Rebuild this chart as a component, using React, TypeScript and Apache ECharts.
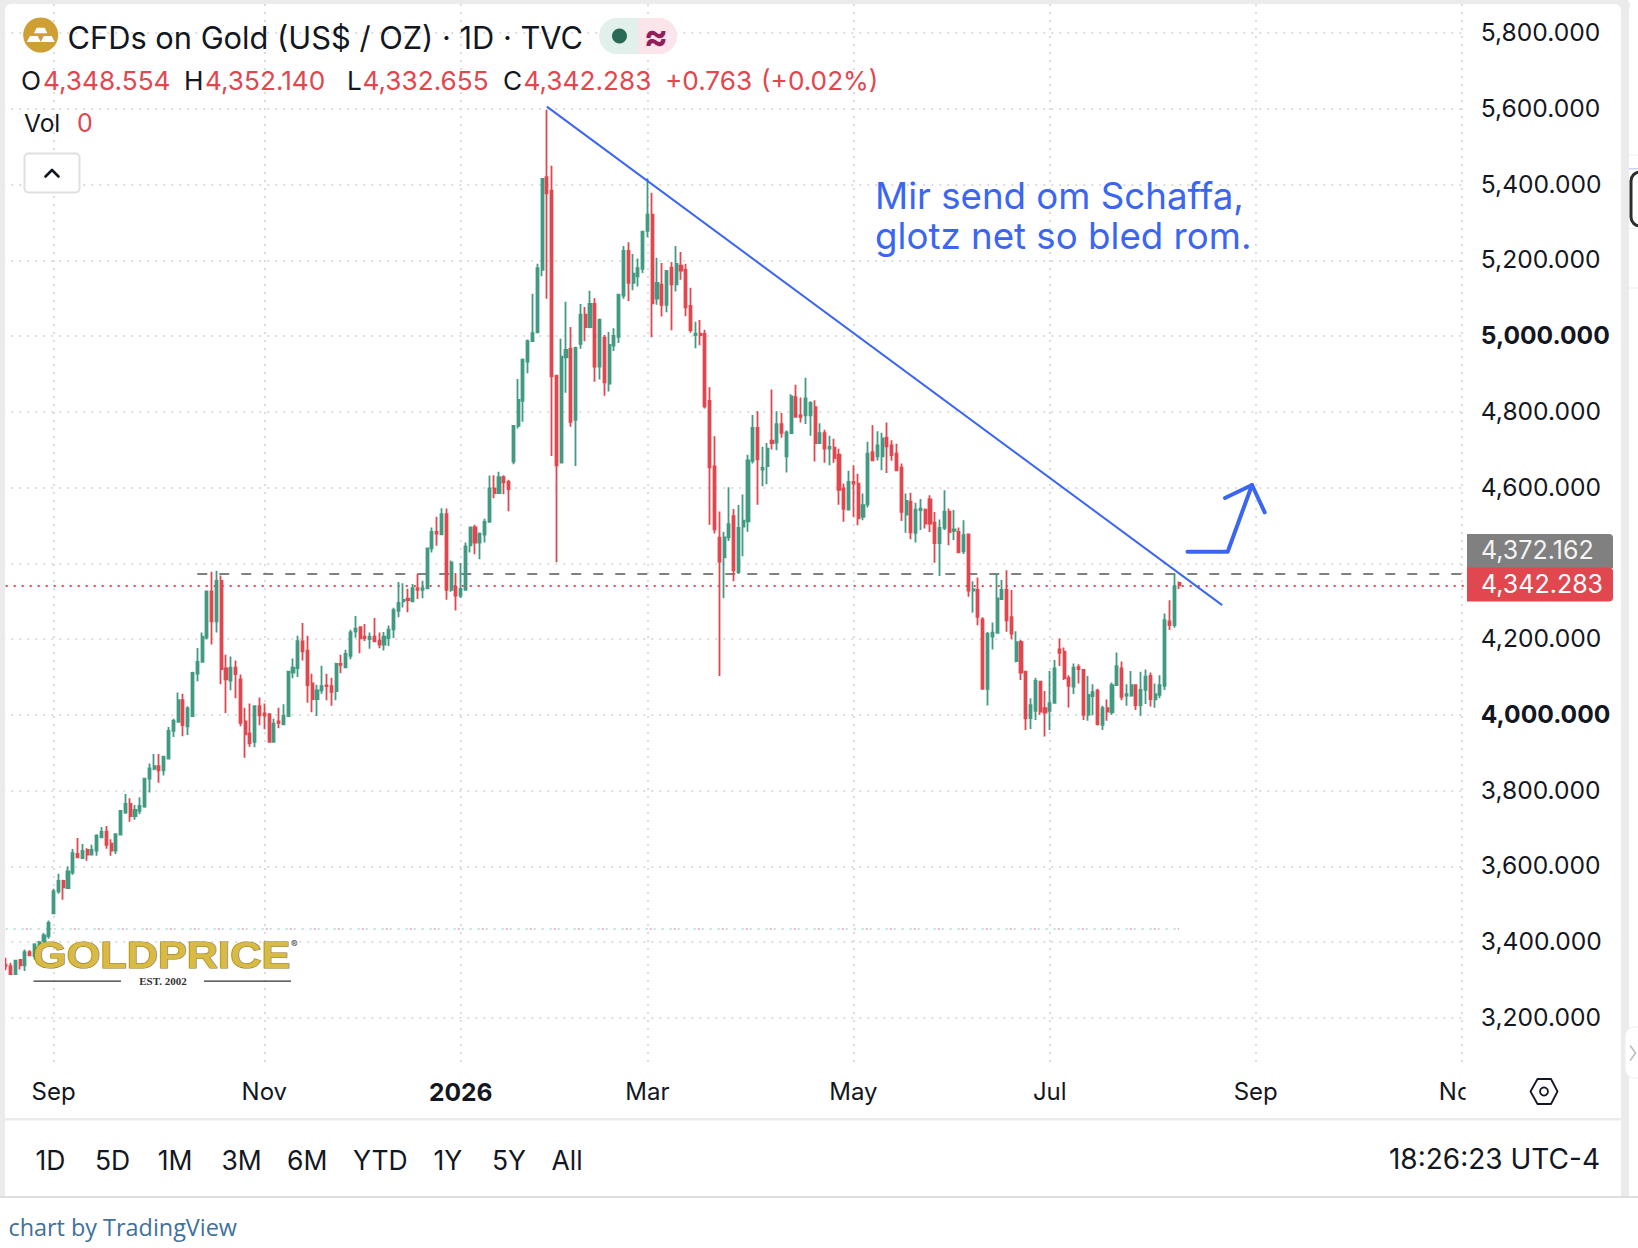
import React, { useEffect, useRef } from "react";
import * as echarts from "echarts";

const opens = [
  3341,3337,3316,3353,3339,3374,3363,3389,3403,3416,3476,3534,3562,3543,3584,3633,3622,3644,3631,3642,
  3677,3692,3660,3642,3684,3742,3765,3733,3747,3758,3832,3858,3865,3854,3885,3958,3982,4039,3970,3997,
  4109,4140,4204,4326,4247,4354,4123,4091,4125,4094,3983,3951,3929,4023,4004,4002,3929,3983,3975,3997,
  4112,4124,4194,4170,4083,4042,4065,4078,4076,4063,4135,4126,4156,4221,4232,4207,4200,4207,4196,4186,
  4203,4226,4275,4300,4307,4300,4335,4330,4334,4440,4483,4477,4530,
  4330,4339,4315,4330,4448,4495,4455,4476,4510,4598,4586,4628,4615,4669,4763,4829,4933,4987,5010,5175,
  5420,5384,4896,4666,4944,4967,4779,4980,5057,5024,5085,4920,4996,4875,4975,4998,5107,5225,5141,5158,
  5178,5278,5321,5099,5136,5083,5181,5137,5186,5175,5080,5003,5007,5006,4829,4656,4468,4416,4469,4525,
  4377,4497,4511,4671,4758,4648,4657,4724,4719,4768,4683,4744,4839,4791,4791,4791,4813,4718,4744,4703,
  4706,4687,4598,4542,
  4615,4611,4523,4556,4694,4683,4683,4732,4712,4690,4653,4529,4563,4481,4541,4542,4569,4508,4454,4494,
  4537,4486,4483,4432,4477,4328,4330,4252,4069,4207,4217,4306,4331,4258,4142,4193,4114,3992,4011,4088,
  4018,4011,4032,4173,4167,4097,4075,4126,4119,4000,4050,4064,3974,4018,4007,4079,4123,4051,4051,4079,
  4026,4066,4103,4041,4053,4077,4247,4237,4348.554,
];
const closes = [
  3337,3316,3351,3339,3374,3365,3394,3400,3418,3451,3534,3562,3545,3587,3635,3624,3641,3631,3644,3681,
  3691,3657,3642,3685,3747,3765,3733,3749,3760,3832,3859,3865,3854,3890,3958,3984,4039,3973,4017,4111,
  4140,4207,4326,4247,4354,4121,4094,4125,4108,3979,3949,3926,4023,3999,3999,3929,3977,3979,3998,4114,
  4125,4195,4168,4079,4042,4065,4076,4076,4061,4135,4132,4161,4218,4228,4202,4203,4207,4194,4186,4207,
  4225,4277,4296,4304,4303,4335,4330,4335,4440,4483,4479,4530,4330,
  4403,4315,4333,4445,4495,4455,4479,4510,4598,4586,4628,4614,4596,4763,4832,4938,4987,5008,5180,5415,
  5377,4894,4659,4946,4964,4774,4969,5057,5024,5085,4920,5043,4878,4977,5001,5110,5225,5141,5165,5180,
  5276,5321,5087,5141,5083,5172,5137,5191,5173,5076,5016,5007,5003,4815,4654,4490,4405,4469,4504,4382,
  4494,4513,4672,4758,4675,4652,4703,4718,4768,4745,4746,4841,4787,4787,4836,4824,4718,4744,4703,4708,
  4678,4594,4544,4615,
  4611,4519,4554,4690,4672,4712,4730,4709,4686,4646,4536,4565,4482,4542,4545,4505,4505,4454,4494,4537,
  4483,4490,4429,4475,4328,4332,4259,4069,4214,4217,4308,4330,4250,4215,4192,4112,3991,4026,4090,4009,
  4006,4031,4123,4164,4097,4077,4125,4121,4000,4053,4060,3976,4018,4009,4079,4129,4048,4055,4079,4026,
  4066,4101,4042,4055,4079,4250,4237,4340,4342.283,
];
const lows = [
  3326,3316,3316,3328,3324,3363,3354,3372,3403,3409,3474,3528,3512,3541,3578,3622,3620,3615,3631,3628,
  3675,3647,3628,3633,3683,3739,3718,3723,3738,3755,3795,3854,3821,3840,3885,3942,3982,3944,3947,3997,
  4089,4140,4199,4186,4218,4081,4005,4065,4044,3970,3887,3916,3915,3973,3962,3929,3929,3965,3973,3997,
  4097,4100,4144,4032,4007,3997,4056,4039,4024,4039,4110,4126,4147,4204,4163,4195,4175,4192,4176,4170,
  4182,4203,4258,4284,4271,4299,4306,4308,4334,4429,4447,4477,4304,
  4325,4276,4309,4330,4429,4424,4411,4455,4508,4572,4584,4583,4538,4662,4756,4774,4902,4985,5008,5158,
  5099,4684,4403,4666,4851,4761,4657,4967,4987,5021,4880,4886,4843,4854,4961,4982,5099,5093,5121,5131,
  5167,5261,4997,5083,5052,5063,5016,5118,5149,5053,5009,4968,4976,4809,4502,4479,4103,4308,4459,4353,
  4372,4419,4484,4664,4555,4604,4609,4701,4699,4732,4640,4742,4787,4772,4768,4737,4669,4716,4666,4659,
  4666,4555,4510,4540,
  4523,4501,4514,4548,4672,4672,4646,4639,4671,4644,4512,4481,4464,4455,4488,4492,4483,4402,4367,4488,
  4448,4462,4428,4425,4312,4270,4237,4069,4025,4173,4217,4305,4220,4200,4139,4092,3960,3963,3987,4000,
  3943,3960,4031,4129,4092,4020,4055,4083,3987,3985,4000,3972,3960,3985,4000,4079,4039,4024,4048,4013,
  3998,4029,4022,4019,4044,4066,4224,4230,4332.655,
];
const highs = [
  3359,3346,3351,3354,3381,3379,3397,3403,3424,3457,3541,3581,3565,3600,3646,3675,3659,3648,3657,3685,
  3704,3707,3672,3685,3749,3791,3780,3762,3783,3832,3872,3897,3897,3890,3968,3990,4059,4056,4023,4114,
  4177,4218,4328,4378,4381,4368,4159,4154,4144,4107,4019,4030,4025,4046,4030,4004,3990,4019,4028,4114,
  4149,4209,4243,4209,4109,4080,4130,4109,4098,4138,4159,4172,4225,4261,4233,4240,4218,4256,4218,4219,
  4236,4283,4351,4348,4333,4346,4372,4354,4442,4495,4523,4546,4545,
  4408,4375,4401,4455,4497,4502,4482,4518,4632,4633,4642,4633,4621,4765,4887,4941,4991,5112,5191,5415,
  5598,5450,4896,4993,5091,5024,4972,5085,5077,5120,5100,5047,5003,5011,5021,5110,5238,5248,5217,5205,
  5278,5417,5379,5207,5193,5175,5196,5238,5222,5191,5128,5038,5043,5017,4865,4736,4537,4484,4601,4544,
  4554,4582,4687,4792,4802,4708,4718,4859,4802,4797,4751,4847,4872,4838,4890,4828,4831,4770,4753,4737,
  4729,4703,4611,4645,
  4659,4637,4585,4721,4765,4749,4745,4772,4725,4716,4664,4585,4587,4560,4570,4545,4580,4536,4516,4593,
  4545,4541,4495,4514,4479,4353,4363,4258,4219,4244,4372,4356,4382,4330,4221,4198,4114,4044,4098,4090,
  4063,4116,4145,4202,4178,4105,4136,4134,4119,4103,4081,4069,4024,4041,4086,4165,4141,4081,4116,4081,
  4114,4120,4112,4083,4105,4268,4303,4372,4352.14,
];

const yTicks = [3200, 3400, 3600, 3800, 4000, 4200, 4400, 4600, 4800, 5000, 5200, 5400, 5600, 5800];
const yLabelTicks = [3200, 3400, 3600, 3800, 4000, 4200, 4600, 4800, 5000, 5200, 5400, 5600, 5800];
const yBold = [4000, 5000];
const xTickIndex = [10, 54, 95, 134, 177, 218, 261, 304];
const xTickLabels = ["Sep", "Nov", "2026", "Mar", "May", "Jul", "Sep", "Nov"];
const rangeButtons = ["1D", "5D", "1M", "3M", "6M", "YTD", "1Y", "5Y", "All"];
const categories = Array.from({ length: 306 }, (_, i) => String(i));

const lastClose = 4342.283;
const resistance = 4372.162;
const lowLine = 3436;
const trendFrom = [113, 5606];
const trendTo = [254, 4290];

const GREEN = "#429a82";
const RED = "#e0474f";
const BLUE = "#3a66f2";
const INK = "#131722";
const FONT = "Inter, 'Noto Sans', sans-serif";

const fmt = (v: number) =>
  v.toLocaleString("en-US", { minimumFractionDigits: 3, maximumFractionDigits: 3 });

const T = (text: string, x: number, y: number, size: number, fill: string, extra: any = {}) => ({
  type: "text",
  z: 110,
  x,
  y,
  silent: true,
  style: { text, x: 0, y: 0, fill, font: `${extra.weight || 400} ${size}px ${extra.family || FONT}`, verticalAlign: "middle", align: extra.align || "left", ...(extra.lineHeight ? { lineHeight: extra.lineHeight } : {}) },
});
const R = (x: number, y: number, width: number, height: number, fill: string, z = 100, r: any = 0, stroke?: string, lineWidth = 1) => ({
  type: "rect",
  z,
  silent: true,
  shape: { x, y, width, height, r },
  style: { fill, stroke, lineWidth },
});
const P = (points: number[][], fill: string) => ({ type: "polygon", z: 111, silent: true, shape: { points }, style: { fill } });
const PL = (points: number[][], stroke: string, lineWidth: number, z = 111) => ({
  type: "polyline",
  z,
  silent: true,
  shape: { points },
  style: { stroke, lineWidth, fill: "none", lineCap: "round", lineJoin: "round" },
});

const buildGraphics = () => {
  const bx = [35.5, 95, 157.7, 221.5, 287, 353, 433.5, 492, 551.5];
  const ohlc: [string, number, string][] = [
    ["O", 21, INK], ["4,348.554", 43, RED], ["H", 184, INK], ["4,352.140", 205, RED],
    ["L", 347, INK], ["4,332.655", 362.5, RED], ["C", 503, INK], ["4,342.283", 523.5, RED],
    ["+0.763", 665, RED], ["(+0.02%)", 761, RED],
  ];
  return [
    R(1465.6, 4, 15.4, 1115, "#ffffff", 90),
    R(1481, 1072, 14, 40, "#ffffff", 90),
    // frame
    { type: "rect", z: 100, silent: true, shape: { x: 0, y: -1, width: 1626, height: 1500, r: 11 }, style: { fill: "none", stroke: "#ebebeb", lineWidth: 10 } },
    R(5, 1118, 1616, 2.4, "#ebebeb", 101),
    R(0, 1196, 1638, 52, "#ffffff", 102),
    R(0, 1196, 1638, 2, "#dedede", 103),
    // right side panel
    R(1629, 4, 12, 1192, "#ffffff", 104, [6, 0, 0, 0]),
    R(1629, 154.5, 9, 1, "#eeeeee", 105),
    R(1629, 168, 9, 1.5, "#c7d6f5", 105),
    R(1631, 172, 20, 54, "#ffffff", 105, 9, "#2e2e2e", 3),
    R(1629, 228, 9, 1, "#eeeeee", 105),
    R(1629, 287.5, 9, 1, "#eeeeee", 105),
    R(1625, 1027, 30, 51, "#ffffff", 105, 9, "#eeeeee", 1),
    PL([[1630.5, 1046], [1635.5, 1053], [1630.5, 1060]], "#bdbdbd", 1.6),
    // header
    { type: "circle", z: 110, silent: true, shape: { cx: 40.7, cy: 35, r: 17.5 }, style: { fill: "#cf9f33" } },
    P([[36.7, 27.7], [44.7, 27.7], [47.3, 33.3], [34, 33.3]], "#ffffff"),
    P([[30, 36], [37.7, 36], [40.7, 42], [26.7, 42]], "#ffffff"),
    P([[43.7, 36], [51.7, 36], [54.7, 42], [40.7, 42]], "#ffffff"),
    T("CFDs on Gold (US$ / OZ) · 1D · TVC", 67.5, 37, 30.8, INK),
    R(599, 18, 39, 36, "#e2f0ec", 110, [18, 0, 0, 18]),
    R(638, 18, 39, 36, "#fbe4ea", 110, [0, 18, 18, 0]),
    { type: "circle", z: 111, silent: true, shape: { cx: 619.5, cy: 36, r: 7.5 }, style: { fill: "#2a6b58" } },
    T("≈", 656, 36, 36, "#91205a", { weight: 700, align: "center" }),
    ...ohlc.map(([t, x, c]) => T(t, x, 80, 26.2, c)),
    T("Vol", 24, 122.5, 24.5, INK),
    T("0", 77, 122.5, 25, RED),
    R(24.5, 153.5, 55, 39, "#ffffff", 110, 4, "#e0e0e0", 2),
    PL([[45.5, 176.5], [52, 170], [58.5, 176.5]], INK, 2.6),
    // annotation
    T("Mir send om Schaffa,\nglotz net so bled rom.", 875, 215, 36.7, BLUE, { lineHeight: 40 }),
    PL([[1187.5, 551.7], [1227.7, 551.7], [1252, 485]], BLUE, 4),
    PL([[1225, 498], [1252, 485], [1264.7, 512.3]], BLUE, 4),
    // price tags
    R(1467, 534, 146, 34, "#808080", 108, [0, 4, 0, 0]),
    R(1467, 567.5, 146, 34, RED, 108, [0, 4, 4, 0]),
    T(fmt(resistance), 1481, 550, 25, "#f4f4f4"),
    T(fmt(lastClose), 1481, 584, 25, "#ffffff"),
    // gold price logo
    { type: "text", z: 112, silent: true, x: 33, y: 956, scaleX: 1.17, style: { text: "GOLDPRICE", x: 0, y: 0, font: "700 37px 'Liberation Sans'", fill: "#d8bb45", stroke: "#947a1c", lineWidth: 1.2, verticalAlign: "middle" } },
    T("®", 291, 944, 10, "#555555", { weight: 700 }),
    T("EST. 2002", 163, 980.5, 11, "#333333", { weight: 700, align: "center", family: "'Liberation Serif', serif" }),
    R(33.5, 980.5, 87.5, 1.3, "#333333", 111),
    R(204, 980.5, 87, 1.3, "#333333", 111),
    // time axis settings icon
    PL([[1530.5, 1091.5], [1537.5, 1079], [1551, 1079], [1557.5, 1091.5], [1551, 1104], [1537.5, 1104], [1530.5, 1091.5]], INK, 1.8),
    { type: "circle", z: 111, silent: true, shape: { cx: 1544, cy: 1091.5, r: 4 }, style: { fill: "none", stroke: INK, lineWidth: 1.8 } },
    // footer
    ...rangeButtons.map((b, i) => T(b, bx[i], 1159.5, 26.5, INK)),
    T("18:26:23 UTC-4", 1600, 1159, 28, INK, { align: "right" }),
    T("chart by TradingView", 8.5, 1227, 23.4, "#41719b", { family: "'Open Sans', sans-serif" }),
  ];
};

export default function App() {
  const ref = useRef<HTMLDivElement>(null);
  useEffect(() => {
    document.body.style.margin = "0";
    const chart = echarts.init(ref.current!, null, { renderer: "svg" });
    const isTick = (i: number) => xTickIndex.includes(i);
    const dotted = { type: [2, 6], width: 2, color: "#dcdcdc" };
    chart.setOption({
      animation: false,
      backgroundColor: "#ffffff",
      grid: { left: 3.3, top: 4, width: 1465.5, height: 1058, containLabel: false },
      xAxis: {
        type: "category",
        data: categories,
        boundaryGap: true,
        axisLine: { show: false },
        axisTick: { show: false },
        splitLine: { show: true, interval: (i: number) => isTick(i), alignWithLabel: true, lineStyle: dotted },
        axisLabel: {
          interval: (i: number) => isTick(i),
          margin: 17,
          hideOverlap: false,
          formatter: (v: string) => {
            const label = xTickLabels[xTickIndex.indexOf(Number(v))];
            return label === "2026" ? `{b|${label}}` : label;
          },
          color: INK,
          fontFamily: FONT,
          fontSize: 24,
          rich: { b: { fontWeight: 700, fontFamily: FONT, fontSize: 24.6, color: INK } },
        },
      },
      yAxis: {
        type: "value",
        position: "right",
        min: 3083.7,
        max: 5877.1,
        scale: true,
        axisLine: { show: false },
        axisTick: { show: false, customValues: yTicks },
        splitLine: { show: true, lineStyle: dotted },
        axisLabel: {
          customValues: yLabelTicks,
          margin: 12,
          color: INK,
          fontFamily: FONT,
          fontSize: 24.6,
          padding: [0, 0, 2, 0],
          formatter: (v: number) => (yBold.includes(v) ? `{b|${fmt(v)}}` : fmt(v)),
          rich: { b: { fontWeight: 700, fontFamily: FONT, fontSize: 24.6, color: INK } },
        },
      },
      series: [
        {
          type: "line",
          data: [],
          silent: true,
          markLine: {
            silent: true,
            z: 1,
            symbol: "none",
            label: { show: false },
            animation: false,
            data: [
              [
                { coord: [categories[0], lastClose], lineStyle: { type: [2, 6], width: 2, color: RED } },
                { coord: [categories[305], lastClose] },
              ],
              [
                { coord: [categories[40], resistance], lineStyle: { type: [10, 12], width: 2, color: "#808080" } },
                { coord: [categories[305], resistance] },
              ],
              [
                { coord: [categories[0], lowLine], lineStyle: { type: [2, 6], width: 1.5, color: "#a6d9d0" } },
                { coord: [categories[245], lowLine] },
              ],
              [
                { coord: [categories[0], lowLine], lineStyle: { type: [2, 22], dashOffset: 4, width: 1.5, color: "#eda3a6" } },
                { coord: [categories[245], lowLine] },
              ],
            ],
          },
        },
        {
          type: "candlestick",
          data: opens.map((o, i) => [o, closes[i], lows[i], highs[i]]),
          barWidth: 2.6,
          itemStyle: { color: GREEN, color0: RED, borderColor: GREEN, borderColor0: RED, borderWidth: 1.8 },
          markLine: {
            silent: true,
            z: 5,
            symbol: "none",
            label: { show: false },
            animation: false,
            data: [
              [
                { coord: [categories[trendFrom[0]], trendFrom[1]], lineStyle: { type: "solid", width: 2, color: BLUE } },
                { coord: [categories[trendTo[0]], trendTo[1]] },
              ],
            ],
          },
        },
      ],
      graphic: buildGraphics(),
    });
    return () => chart.dispose();
  }, []);
  return <div ref={ref} style={{ position: "absolute", left: 0, top: 0, width: 1638, height: 1248 }} />;
}
